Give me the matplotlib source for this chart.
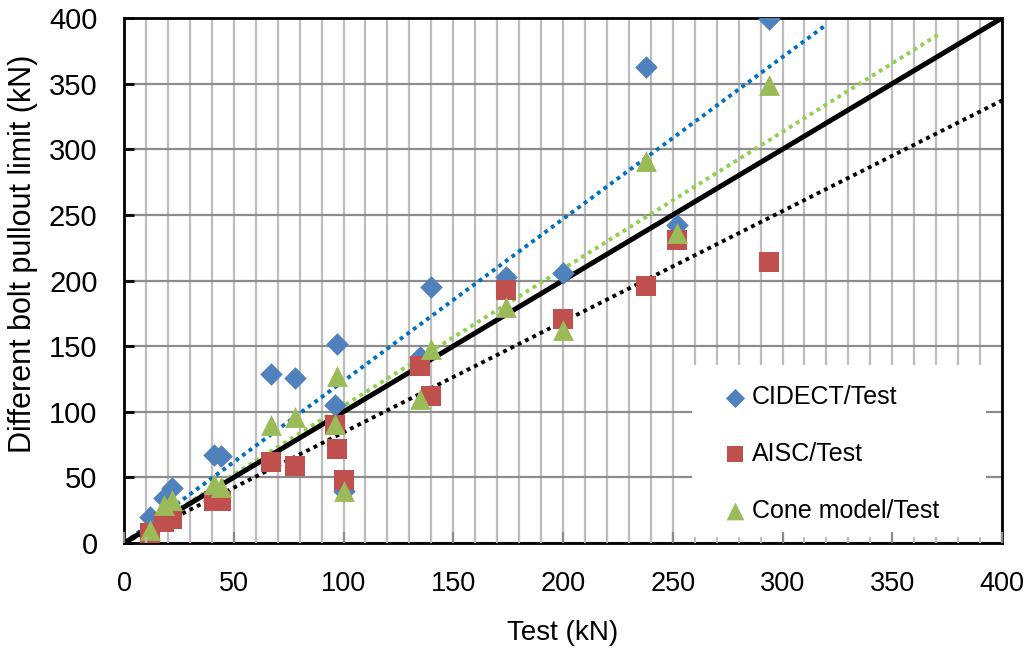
import numpy as np
import matplotlib
matplotlib.use("Agg")
import matplotlib.pyplot as plt
from matplotlib.patches import Rectangle
from matplotlib.ticker import MultipleLocator

# Test pullout loads (kN) and predicted limits by method
test_kn = [12, 18, 22, 41, 44, 67, 78, 96, 97, 100, 135, 140, 174, 200, 238, 252, 294]
cidect = [20, 34, 42, 67, 66, 129, 126, 105, 152, 40, 142, 195, 203, 206, 363, 242, 399]
aisc = [8, 16, 18, 32, 32, 62, 59, 90, 72, 48, 135, 112, 193, 171, 196, 231, 214]
cone = [10, 29, 33, 45, 43, 90, 96, 91, 127, 40, 110, 148, 180, 162, 291, 236, 349]
series_labels = ["CIDECT/Test", "AISC/Test", "Cone model/Test"]
# x extent of each zero-intercept trendline
trend_end = [319, 400, 371]

x_ticks = [0, 50, 100, 150, 200, 250, 300, 350, 400]
y_ticks = [0, 50, 100, 150, 200, 250, 300, 350, 400]

plt.rcParams["font.family"] = ["Liberation Sans", "DejaVu Sans"]

fig = plt.figure(figsize=(10.32, 6.53), dpi=100)
ax = fig.add_axes([124 / 1032, 1 - 543 / 653, 878 / 1032, 525 / 653])
ax.set_xlim(0, 400)
ax.set_ylim(0, 400)
ax.set_axisbelow(True)

ax.xaxis.set_major_locator(MultipleLocator(50))
ax.xaxis.set_minor_locator(MultipleLocator(10))
ax.yaxis.set_major_locator(MultipleLocator(50))
ax.grid(which="minor", axis="x", color="#bdbdbd", lw=1.6)
ax.grid(which="major", axis="x", color="#bdbdbd", lw=1.6)
ax.grid(which="major", axis="y", color="#8c8c8c", lw=1.6)
ax.tick_params(axis="x", which="both", length=0, pad=20, labelsize=19.5)
ax.tick_params(axis="y", which="major", direction="in", length=7, width=2,
               pad=19, labelsize=21)
ax.set_xticks(x_ticks)
ax.set_yticks(y_ticks)
for s in ax.spines.values():
    s.set_linewidth(2)
    s.set_color("black")

# blank panel behind the legend
ax.add_patch(Rectangle((0.647, 0.006), 0.335, 0.333, transform=ax.transAxes,
                       facecolor="white", edgecolor="none", zorder=0.8))

x = np.array(test_kn, dtype=float)
ys = [np.array(v, dtype=float) for v in (cidect, aisc, cone)]

# 1:1 line
ax.plot([0, 400], [0, 400], color="black", lw=3.6, zorder=3, solid_capstyle="butt")

# trendlines through the origin (least squares)
trend_colors = ["#0070C0", "black", "#92D050"]
for y, xe, c in zip(ys, trend_end, trend_colors):
    k = np.sum(x * y) / np.sum(x * x)
    xx = np.array([0.0, xe])
    ax.plot(xx, k * xx, color=c, lw=2.8, linestyle=(0, (1, 1.1)),
            dash_capstyle="butt", zorder=2.5)

h1 = ax.scatter(x, ys[0], marker="D", s=11.5 ** 2, color="#4F81BD",
                zorder=4, label=series_labels[0], linewidths=0)
h2 = ax.scatter(x, ys[1], marker="s", s=14 ** 2, color="#C0504D",
                zorder=4, label=series_labels[1], linewidths=0)
h3 = ax.scatter(x, ys[2], marker="^", s=15 ** 2, color="#9BBB59",
                zorder=4, label=series_labels[2], linewidths=0)

ax.legend(handles=[h1, h2, h3], loc="center left",
          bbox_to_anchor=((714 - 124) / 878, (543 - 454) / 525),
          frameon=False, fontsize=18, borderpad=0, handlelength=0.7,
          handletextpad=0.3, labelspacing=1.3, markerscale=0.85)

ax.set_xlabel("Test (kN)", fontsize=20, labelpad=17)
ax.set_ylabel("Different bolt pullout limit (kN)", fontsize=22)
ax.yaxis.set_label_coords((38 - 124) / 878, (543 - 254) / 525)

# tick marks along the bottom edge, drawn over the legend panel
ov = fig.add_axes(ax.get_position(), sharex=ax)
ov.patch.set_visible(False)
for s in ov.spines.values():
    s.set_visible(False)
ov.set_ylim(0, 400)
ov.set_yticks([])
ov.tick_params(axis="x", which="major", direction="in", length=8, width=1.6,
               labelbottom=False, color="#8c8c8c")
ov.tick_params(axis="x", which="minor", direction="in", length=4, width=1.4,
               color="#bdbdbd")

fig.savefig("out.png", dpi=100)
